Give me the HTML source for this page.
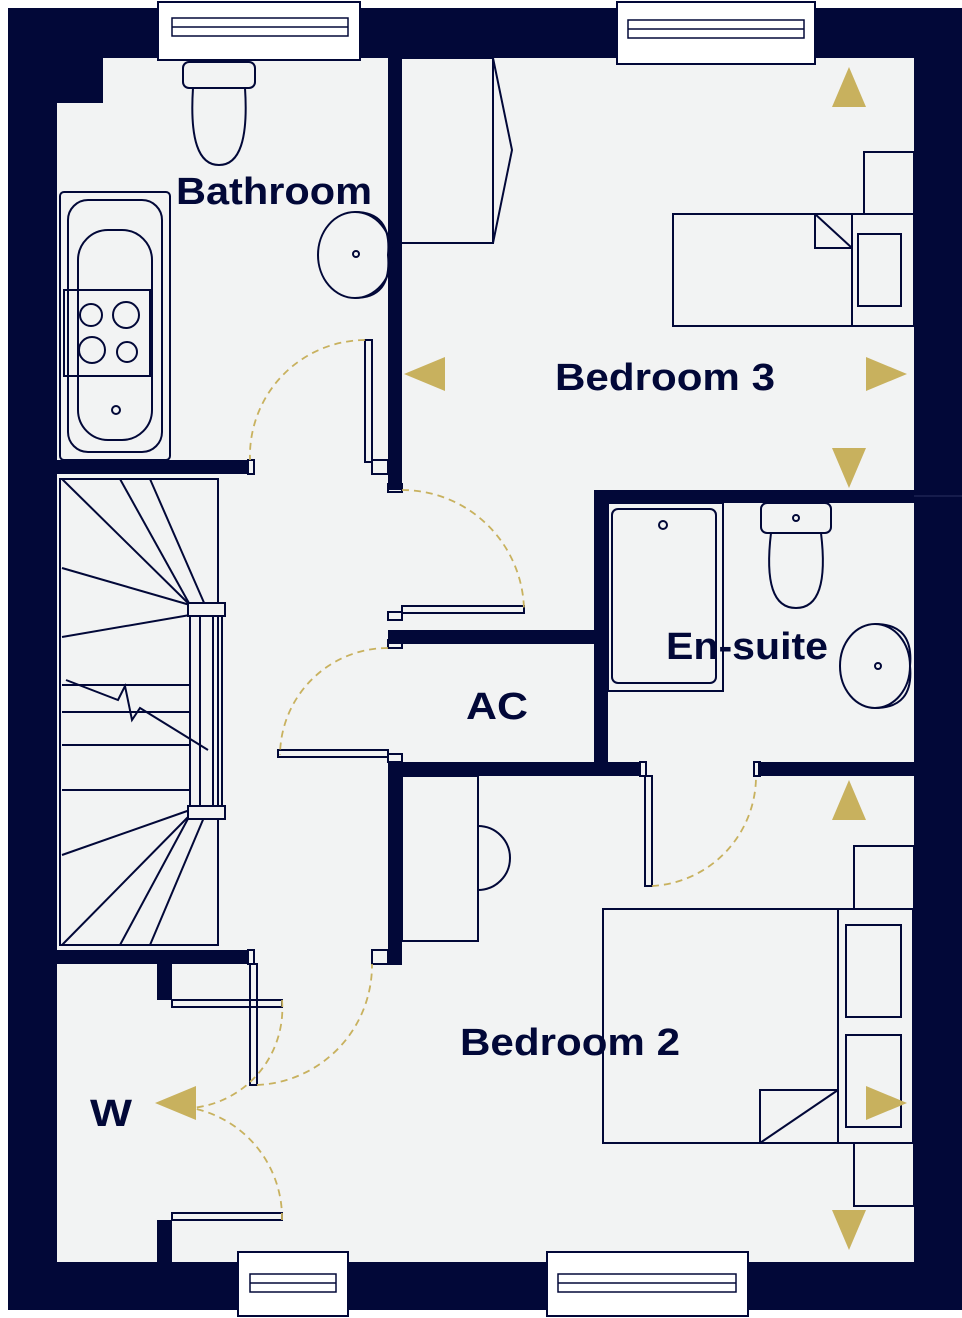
<!DOCTYPE html>
<html><head><meta charset="utf-8"><style>
html,body{margin:0;padding:0;background:#fff;}
svg{display:block}
text{font-family:"Liberation Sans",sans-serif;font-weight:bold;fill:#020838}
</style></head><body>
<svg width="962" height="1318" viewBox="0 0 962 1318" xmlns="http://www.w3.org/2000/svg">
<g fill="#020838">
<rect x="8" y="8" width="954" height="1302"/>
</g>
<rect x="57" y="58" width="857" height="1204" fill="#f2f3f3"/>
<rect x="57" y="58" width="46" height="45" fill="#020838"/>
<g fill="#020838">
<rect x="388" y="30" width="14" height="460"/>
<rect x="57" y="460" width="191" height="14"/>
<rect x="57" y="950" width="191" height="14"/>
<rect x="594" y="490" width="368" height="13"/>
<rect x="594" y="490" width="14" height="285"/>
<rect x="388" y="630" width="212" height="14"/>
<rect x="388" y="762" width="252" height="14"/>
<rect x="758" y="762" width="156" height="14"/>
<rect x="388" y="762" width="14" height="203"/>
<rect x="157" y="964" width="15" height="36"/>
<rect x="157" y="1220" width="15" height="42"/>
</g>
<line x1="914" y1="496" x2="962" y2="496" stroke="#2a3060" stroke-width="1"/>
<g fill="#fff" stroke="#020838" stroke-width="2">
<rect x="158" y="2" width="202" height="58"/>
<rect x="617" y="2" width="198" height="62"/>
<rect x="238" y="1252" width="110" height="64"/>
<rect x="547" y="1252" width="201" height="64"/>
</g>
<g fill="none" stroke="#020838" stroke-width="1.5">
<rect x="172" y="18" width="176" height="18"/><line x1="172" y1="27" x2="348" y2="27"/>
<rect x="628" y="20" width="176" height="18"/><line x1="628" y1="29" x2="804" y2="29"/>
<rect x="250" y="1274" width="86" height="18"/><line x1="250" y1="1283" x2="336" y2="1283"/>
<rect x="558" y="1274" width="178" height="18"/><line x1="558" y1="1283" x2="736" y2="1283"/>
</g>
<g fill="none" stroke="#020838" stroke-width="2">
<rect x="183" y="62" width="72" height="26" rx="6"/>
<path d="M193 88 Q188 165 219 165 Q250 165 245 88"/>
<rect x="60" y="192" width="110" height="268" rx="4"/>
<rect x="68" y="200" width="94" height="252" rx="20"/>
<rect x="78" y="230" width="74" height="210" rx="30"/>
<rect x="64" y="290" width="86" height="86"/>
<circle cx="91" cy="315" r="11"/><circle cx="126" cy="315" r="13"/><circle cx="92" cy="350" r="13"/><circle cx="127" cy="352" r="10"/>
<circle cx="116" cy="410" r="4"/>
<ellipse cx="355" cy="255" rx="37" ry="43"/>
<path d="M355 212 Q392 212 388 255 Q392 298 355 298"/>
<circle cx="356" cy="254" r="3"/>
<polyline points="402,58 493,58 493,243 402,243"/>
<polyline points="493,58 512,150 493,243"/>
<rect x="673" y="214" width="241" height="112"/>
<line x1="852" y1="214" x2="852" y2="326"/>
<rect x="858" y="234" width="43" height="72"/>
<polyline points="815,214 815,248 852,248"/><line x1="815" y1="214" x2="852" y2="248"/>
<rect x="864" y="152" width="50" height="62"/>
<rect x="608" y="503" width="115" height="188"/>
<rect x="612" y="509" width="104" height="174" rx="6"/>
<circle cx="663" cy="525" r="4"/>
<rect x="761" y="503" width="70" height="30" rx="6"/>
<path d="M771 533 Q762 608 796 608 Q830 608 821 533"/>
<circle cx="796" cy="518" r="3"/>
<ellipse cx="875" cy="666" rx="35" ry="42"/>
<path d="M875 624 Q914 624 910 666 Q914 708 875 708"/>
<circle cx="878" cy="666" r="3"/>
<rect x="402" y="776" width="76" height="165"/>
<path d="M478 826 A32 32 0 0 1 478 890"/>
<rect x="603" y="909" width="310" height="234"/>
<line x1="838" y1="909" x2="838" y2="1143"/>
<rect x="846" y="925" width="55" height="92"/><rect x="846" y="1035" width="55" height="92"/>
<polyline points="760,1143 760,1090 838,1090"/><line x1="760" y1="1143" x2="838" y2="1090"/>
<rect x="854" y="846" width="60" height="63"/><rect x="854" y="1143" width="60" height="63"/>
<rect x="60" y="479" width="158" height="466"/>
<line x1="62" y1="568" x2="190" y2="605"/><line x1="62" y1="637" x2="190" y2="615"/>
<line x1="62" y1="479" x2="190" y2="605"/><line x1="120" y1="479" x2="190" y2="605"/><line x1="150" y1="479" x2="205" y2="605"/>
<line x1="62" y1="685" x2="190" y2="685"/><line x1="62" y1="712" x2="190" y2="712"/><line x1="62" y1="745" x2="190" y2="745"/>
<line x1="62" y1="790" x2="190" y2="790"/>
<line x1="62" y1="855" x2="190" y2="810"/><line x1="62" y1="945" x2="190" y2="815"/><line x1="120" y1="945" x2="190" y2="815"/><line x1="150" y1="945" x2="205" y2="815"/>
<polyline points="66,680 118,700 125,686 132,720 140,708 208,750"/>
<line x1="190" y1="605" x2="190" y2="815"/><line x1="200" y1="605" x2="200" y2="815"/><line x1="213" y1="605" x2="213" y2="815"/><line x1="222" y1="605" x2="222" y2="815"/>
<rect x="188" y="603" width="37" height="13" fill="#f2f3f3"/><rect x="188" y="806" width="37" height="13" fill="#f2f3f3"/>
<rect x="365" y="340" width="7" height="122"/>
<rect x="372" y="460" width="16" height="14"/>
<rect x="388" y="484" width="14" height="8"/>
<rect x="402" y="606" width="122" height="7"/>
<rect x="388" y="612" width="14" height="8"/><rect x="388" y="640" width="14" height="8"/>
<rect x="278" y="750" width="110" height="7"/><rect x="388" y="754" width="14" height="8"/>
<rect x="640" y="762" width="6" height="14"/><rect x="645" y="776" width="7" height="110"/>
<rect x="754" y="762" width="6" height="14"/>
<rect x="248" y="460" width="6" height="14"/><rect x="248" y="950" width="6" height="14"/>
<rect x="250" y="964" width="7" height="121"/>
<rect x="172" y="1000" width="110" height="7"/>
<rect x="172" y="1213" width="110" height="7"/>
<rect x="372" y="950" width="16" height="14"/>
</g>
<g fill="none" stroke="#c8b15e" stroke-width="1.8" stroke-dasharray="7,5">
<path d="M365 340 A116 116 0 0 0 250 460"/>
<path d="M402 490 A122 122 0 0 1 524 610"/>
<path d="M388 648 A108 108 0 0 0 280 755"/>
<path d="M652 886 A110 110 0 0 0 756 775"/>
<path d="M257 1085 A120 120 0 0 0 372 964"/>
<path d="M282 1000 A100 100 0 0 1 192 1108"/>
<path d="M282 1220 A112 112 0 0 0 192 1108"/>
</g>
<g fill="#c8b15e">
<polygon points="849,67 866,107 832,107"/>
<polygon points="404,374 445,357 445,391"/>
<polygon points="907,374 866,357 866,391"/>
<polygon points="849,488 832,448 866,448"/>
<polygon points="849,780 866,820 832,820"/>
<polygon points="907,1103 866,1086 866,1120"/>
<polygon points="849,1250 832,1210 866,1210"/>
<polygon points="155,1103 196,1086 196,1120"/>
</g>
<text x="176" y="204" font-size="38" textLength="196" lengthAdjust="spacingAndGlyphs">Bathroom</text>
<text x="555" y="390" font-size="38" textLength="220" lengthAdjust="spacingAndGlyphs">Bedroom 3</text>
<text x="666" y="659" font-size="38" textLength="162" lengthAdjust="spacingAndGlyphs">En-suite</text>
<text x="466" y="719" font-size="38" textLength="62" lengthAdjust="spacingAndGlyphs">AC</text>
<text x="460" y="1055" font-size="38" textLength="220" lengthAdjust="spacingAndGlyphs">Bedroom 2</text>
<text x="90" y="1126" font-size="38" textLength="42" lengthAdjust="spacingAndGlyphs">W</text>
</svg>
</body></html>
